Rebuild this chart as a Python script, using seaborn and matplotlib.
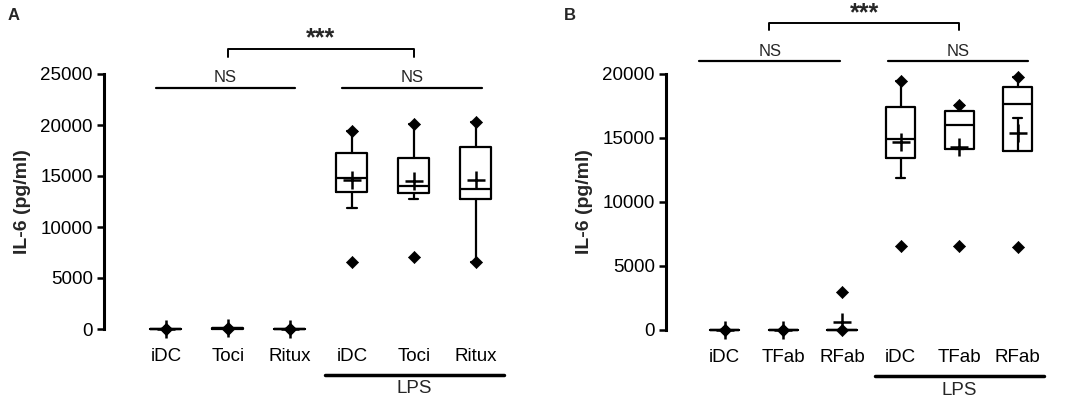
"""
IL-6 box plots, panels A and B
"""

import numpy as np
import pandas as pd
import matplotlib
matplotlib.use("Agg")
import matplotlib.pyplot as plt
import seaborn as sns

sns.set_style("white")
plt.rcParams["font.family"] = ["Liberation Sans", "DejaVu Sans"]

# -----------------------------
# DADOS
# -----------------------------
labels_a = ["iDC", "Toci", "Ritux", "iDC", "Toci", "Ritux"]
q1_a = [0, 0, 0, 13430, 13300, 12780]
med_a = [0, 50, 0, 14840, 14020, 13760]
q3_a = [0, 90, 0, 17300, 16800, 17880]
wlo_a = [0, 0, 0, 11830, 12780, 6570]
whi_a = [0, 120, 0, 19410, 20100, 20300]
min_a = [0, 0, 0, 6570, 7090, 6570]
max_a = [0, 120, 0, 19410, 20100, 20300]
mean_a = [0, 60, 0, 14580, 14500, 14580]

labels_b = ["iDC", "TFab", "RFab", "iDC", "TFab", "RFab"]
q1_b = [0, 0, 0, 13460, 14140, 14000]
med_b = [0, 0, 0, 14950, 15990, 17630]
q3_b = [0, 0, 0, 17450, 17100, 19000]
wlo_b = [0, 0, 0, 11900, 14140, 16540]
whi_b = [0, 0, 0, 19430, 17550, 19800]
min_b = [0, 0, 0, 6560, 6560, 6500]
max_b = [0, 0, 2990, 19430, 17550, 19800]
mean_b = [0, 0, 650, 14710, 14300, 15420]

fig = plt.figure(figsize=(10.66, 3.99), dpi=100)
ax_a = fig.add_axes([104 / 1066, 1 - 329 / 399, 409 / 1066, 255 / 399])
ax_b = fig.add_axes([666 / 1066, 1 - 330 / 399, 387 / 1066, 256 / 399])


def painel(ax, labels, q1, med, q3, wlo, whi, vmin, vmax, media, ymax, step):
    pos = np.arange(len(labels))
    stats = []
    for i in range(len(labels)):
        stats.append(dict(med=med[i], q1=q1[i], q3=q3[i], whislo=wlo[i],
                          whishi=whi[i], fliers=[], label=labels[i]))
    lw = 1.6
    ax.bxp(stats, positions=pos, widths=0.5, capwidths=0.15, showfliers=False,
           boxprops=dict(color="black", linewidth=lw),
           medianprops=dict(color="black", linewidth=lw),
           whiskerprops=dict(color="black", linewidth=lw),
           capprops=dict(color="black", linewidth=lw))

    # min / max (losangos) e media (+)
    pts = pd.DataFrame({"x": np.concatenate([pos, pos]),
                        "y": np.concatenate([vmin, vmax])})
    sns.scatterplot(data=pts, x="x", y="y", marker="D", s=38, color="black",
                    edgecolor="black", ax=ax, clip_on=False, zorder=5)
    med_df = pd.DataFrame({"x": pos, "y": media})
    sns.scatterplot(data=med_df, x="x", y="y", marker="+", s=150, color="black",
                    linewidth=1.8, ax=ax, clip_on=False, zorder=6)

    for art in ax.lines + ax.patches:
        art.set_clip_on(False)

    ax.set_xlim(-1, 5.6)
    ax.set_ylim(0, ymax)
    ax.set_yticks(np.arange(0, ymax + 1, step))
    ax.set_xticks(pos)
    ax.set_xticklabels(labels)
    ax.set_xlabel("")
    ax.set_ylabel("IL-6 (pg/ml)", fontsize=14, fontweight="bold", labelpad=7)
    for s in ["top", "right", "bottom"]:
        ax.spines[s].set_visible(False)
    ax.spines["left"].set_linewidth(2.2)
    ax.spines["left"].set_color("black")
    ax.tick_params(axis="y", direction="out", length=5, width=1.8, labelsize=13.5,
                   pad=3, left=True, colors="black")
    ax.tick_params(axis="x", length=0, labelsize=13.5, pad=14, colors="black")

    # LPS
    tr = ax.get_xaxis_transform()
    ax.plot([2.56, 5.45], [-0.18, -0.18], color="black", lw=2.5, transform=tr,
            clip_on=False)
    ax.text(4, -0.235, "LPS", ha="center", va="center", fontsize=13.5,
            transform=tr)


painel(ax_a, labels_a, q1_a, med_a, q3_a, wlo_a, whi_a, min_a, max_a, mean_a,
       25000, 5000)
painel(ax_b, labels_b, q1_b, med_b, q3_b, wlo_b, whi_b, min_b, max_b, mean_b,
       20000, 5000)

# anotacoes painel A
ax_a.plot([-0.16, 2.08], [23600, 23600], color="black", lw=1.6, clip_on=False)
ax_a.plot([2.84, 5.1], [23600, 23600], color="black", lw=1.6, clip_on=False)
ax_a.text(0.96, 23900, "NS", ha="center", va="bottom", fontsize=12)
ax_a.text(3.98, 23900, "NS", ha="center", va="bottom", fontsize=12)
ax_a.plot([1, 1, 4, 4], [26700, 27500, 27500, 26700], color="black", lw=1.4,
          clip_on=False)
ax_a.text(2.5, 27300, "***", ha="center", va="bottom", fontsize=18,
          fontweight="bold")

# anotacoes painel B
ax_b.plot([-0.43, 1.97], [21000, 21000], color="black", lw=1.6, clip_on=False)
ax_b.plot([2.78, 5.17], [21000, 21000], color="black", lw=1.6, clip_on=False)
ax_b.text(0.77, 21200, "NS", ha="center", va="bottom", fontsize=12)
ax_b.text(3.98, 21200, "NS", ha="center", va="bottom", fontsize=12)
ax_b.plot([0.76, 0.76, 4, 4], [23400, 24000, 24000, 23400], color="black",
          lw=1.4, clip_on=False)
ax_b.text(2.38, 23800, "***", ha="center", va="bottom", fontsize=18,
          fontweight="bold")

fig.text(8 / 1066, 1 - 15 / 399, "A", fontsize=12, fontweight="bold",
         va="center", ha="left")
fig.text(564 / 1066, 1 - 15 / 399, "B", fontsize=12, fontweight="bold",
         va="center", ha="left")

fig.savefig("out.png", dpi=100)
